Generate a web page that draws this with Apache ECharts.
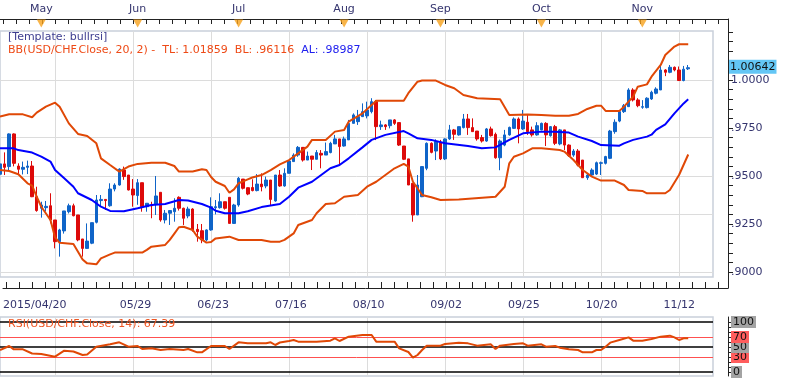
<!DOCTYPE html>
<html>
<head>
<meta charset="utf-8">
<script src="https://cdn.jsdelivr.net/npm/echarts@6/dist/echarts.min.js"></script>
<style>
  html, body { margin: 0; padding: 0; background: #fff; }
  #container { width: 786px; height: 378px; }
</style>
</head>
<body>
<div id="container"></div>
<script>
const container = document.getElementById('container');
const chartIns = echarts.init(container, undefined, { renderer: 'canvas' });

// x positions are trading-day indexes, 0 = 2015/04/20
const SLOTS = 155.4;
const RULER_MAX = SLOTS * 728 / 713;

const gridIdx = [12, 29, 46, 63, 80, 97, 114, 131, 148];
const labelIdx = [0, 29, 46, 63, 80, 97, 114, 131, 148];
const labelText = ['2015/04/20', '05/29', '06/23', '07/16', '08/10', '09/02', '09/25', '10/20', '11/12'];
const monthIdx = [9, 30, 52, 75, 96, 118, 140];
const monthText = ['May', 'Jun', 'Jul', 'Aug', 'Sep', 'Oct', 'Nov'];
const priceLabels = [0.9, 0.925, 0.95, 0.975, 1.0];
const rsiLabels = [0, 30, 50, 70, 100];

// [open, close, low, high]
const ohlc = [
  [.9509,.9563,.9505,.9601],[.9563,.9545,.9505,.9623],[.9549,.9719,.9530,.9722],[.9719,.9566,.9550,.9722],
  [.9552,.9535,.9505,.9566],[.9535,.9545,.9508,.9575],[.9545,.9552,.9510,.9580],[.9552,.9392,.9390,.9578],
  [.9392,.9320,.9314,.9444],[.9332,.9349,.9283,.9366],[.9335,.9342,.9315,.9370],[.9345,.9271,.9253,.9410],
  [.9271,.9158,.9123,.9271],[.9158,.9219,.9080,.9225],[.9214,.9318,.9200,.9318],[.9314,.9345,.9305,.9356],
  [.9345,.9293,.9290,.9356],[.9297,.9167,.9160,.9297],[.9172,.9123,.9080,.9172],[.9123,.9161,.9120,.9253],
  [.9150,.9257,.9145,.9257],[.9259,.9375,.9253,.9401],[.9372,.9378,.9340,.9401],[.9378,.9372,.9323,.9380],
  [.9345,.9432,.9340,.9462],[.9432,.9453,.9420,.9462],[.9453,.9536,.9450,.9540],[.9531,.9497,.9480,.9549],
  [.9505,.9427,.9425,.9505],[.9432,.9401,.9340,.9484],[.9398,.9465,.9350,.9484],[.9465,.9340,.9314,.9465],
  [.9340,.9358,.9314,.9358],[.9349,.9345,.9280,.9366],[.9354,.9396,.9297,.9500],[.9415,.9271,.9262,.9415],
  [.9271,.9306,.9253,.9323],[.9306,.9320,.9245,.9320],[.9314,.9332,.9262,.9384],[.9389,.9332,.9320,.9394],
  [.9332,.9280,.9245,.9335],[.9292,.9328,.9280,.9340],[.9328,.9219,.9210,.9332],[.9222,.9210,.9158,.9250],
  [.9215,.9167,.9150,.9250],[.9167,.9219,.9160,.9222],[.9219,.9340,.9215,.9389],[.9335,.9340,.9300,.9375],
  [.9335,.9366,.9330,.9410],[.9366,.9332,.9325,.9366],[.9389,.9253,.9253,.9389],[.9253,.9349,.9250,.9355],
  [.9349,.9488,.9340,.9495],[.9484,.9436,.9430,.9484],[.9439,.9406,.9400,.9440],[.9440,.9424,.9420,.9483],
  [.9424,.9458,.9420,.9510],[.9458,.9444,.9420,.9514],[.9448,.9479,.9436,.9497],[.9479,.9378,.9349,.9479],
  [.9370,.9505,.9366,.9505],[.9505,.9448,.9444,.9531],[.9448,.9514,.9444,.9540],[.9514,.9578,.9514,.9583],
  [.9575,.9609,.9574,.9618],[.9609,.9649,.9600,.9656],[.9649,.9583,.9575,.9649],[.9583,.9604,.9583,.9627],
  [.9604,.9587,.9531,.9604],[.9587,.9622,.9587,.9635],[.9618,.9609,.9540,.9635],[.9609,.9627,.9609,.9674],
  [.9622,.9670,.9618,.9678],[.9667,.9693,.9667,.9714],[.9693,.9653,.9557,.9693],[.9656,.9693,.9653,.9705],
  [.9688,.9774,.9688,.9792],[.9774,.9818,.9774,.9826],[.9783,.9809,.9766,.9844],[.9809,.9835,.9809,.9878],
  [.9813,.9844,.9800,.9887],[.9835,.9887,.9826,.9905],[.9887,.9757,.9687,.9896],[.9757,.9766,.9740,.9788],
  [.9766,.9757,.9740,.9770],[.9762,.9792,.9748,.9792],[.9792,.9774,.9766,.9796],[.9778,.9661,.9656,.9778],
  [.9656,.9587,.9583,.9656],[.9589,.9453,.9453,.9589],[.9462,.9297,.9262,.9462],[.9297,.9453,.9297,.9505],
  [.9392,.9549,.9390,.9549],[.9540,.9670,.9530,.9675],[.9670,.9623,.9618,.9675],[.9630,.9679,.9583,.9691],
  [.9675,.9589,.9583,.9688],[.9589,.9693,.9583,.9696],[.9693,.9740,.9688,.9766],[.9740,.9717,.9688,.9745],
  [.9714,.9757,.9710,.9757],[.9752,.9797,.9748,.9823],[.9797,.9752,.9714,.9823],[.9752,.9731,.9731,.9800],
  [.9734,.9693,.9684,.9734],[.9700,.9682,.9674,.9714],[.9682,.9745,.9678,.9750],[.9745,.9710,.9705,.9757],
  [.9717,.9595,.9590,.9726],[.9595,.9682,.9530,.9690],[.9661,.9714,.9655,.9740],[.9714,.9753,.9710,.9757],
  [.9748,.9797,.9745,.9805],[.9797,.9745,.9670,.9805],[.9745,.9786,.9740,.9844],[.9780,.9731,.9714,.9820],
  [.9740,.9714,.9705,.9757],[.9714,.9762,.9710,.9780],[.9740,.9774,.9738,.9778],[.9774,.9714,.9656,.9780],
  [.9710,.9757,.9705,.9760],[.9757,.9670,.9661,.9766],[.9667,.9740,.9660,.9745],[.9740,.9661,.9635,.9740],
  [.9661,.9606,.9600,.9665],[.9609,.9630,.9600,.9640],[.9630,.9557,.9550,.9640],[.9583,.9491,.9491,.9583],
  [.9491,.9505,.9480,.9510],[.9505,.9531,.9495,.9540],[.9510,.9569,.9505,.9575],[.9566,.9569,.9505,.9575],
  [.9566,.9601,.9560,.9605],[.9592,.9734,.9588,.9740],[.9731,.9780,.9720,.9795],[.9786,.9835,.9780,.9840],
  [.9835,.9866,.9828,.9875],[.9861,.9948,.9861,.9957],[.9948,.9896,.9888,.9957],[.9896,.9866,.9858,.9905],
  [.9858,.9861,.9850,.9895],[.9856,.9905,.9852,.9910],[.9901,.9936,.9896,.9944],[.9931,.9953,.9925,.9962],
  [.9948,1.0052,.9948,1.0078],[1.0052,1.0040,1.0020,1.0056],[1.0040,1.0066,1.0035,1.0078],[1.0066,1.0052,1.0045,1.0070],
  [1.0052,.9997,.9995,1.0070],[.9997,1.0056,.9993,1.0073],[1.0058,1.0064,1.0052,1.0078]
];

// Bollinger bands [index, value]
const bbUpper = [
  [0,.9809],[2,.9821],[5,.9821],[7,.9806],[8,.9830],[10,.9861],[12,.9882],[13,.9861],[15,.9774],[17,.9719],
  [19,.9708],[21,.9670],[22,.9592],[24,.9557],[26,.9523],[28,.9549],[30,.9563],[33,.9569],[36,.9569],[38,.9552],
  [39,.9523],[42,.9523],[44,.9535],[45,.9531],[46,.9495],[47,.9470],[49,.9448],[50,.9413],[51,.9430],[52,.9462],
  [54,.9482],[55,.9492],[57,.9505],[59,.9531],[61,.9560],[63,.9583],[65,.9618],[67,.9653],[68,.9688],[71,.9688],
  [73,.9731],[75,.9740],[76,.9783],[79,.9826],[81,.9870],[82,.9892],[88,.9892],[89,.9931],[91,.9991],[92,.9997],
  [95,.9997],[97,.9974],[99,.9957],[101,.9922],[104,.9905],[109,.9899],[111,.9818],[115,.9820],[118,.9818],[121,.9814],
  [124,.9814],[126,.9823],[128,.9849],[130,.9866],[131,.9866],[132,.9839],[135,.9839],[136,.9861],[138,.9913],[139,.9965],
  [141,.9977],[142,1.0017],[144,1.0078],[145,1.0130],[147,1.0174],[148,1.0186],[150,1.0186]
];
const bbLower = [
  [0,.9531],[2,.9526],[4,.9509],[6,.9462],[7,.9450],[8,.9392],[9,.9340],[11,.9271],[12,.9180],[13,.9152],
  [16,.9146],[17,.9106],[18,.9065],[19,.9045],[21,.9040],[22,.9071],[24,.9092],[25,.9101],[31,.9101],[32,.9115],
  [33,.9132],[36,.9141],[37,.9167],[38,.9200],[39,.9233],[40,.9236],[42,.9219],[43,.9184],[45,.9153],[46,.9156],
  [47,.9175],[50,.9184],[52,.9167],[57,.9167],[59,.9158],[61,.9158],[62,.9167],[64,.9201],[65,.9245],[68,.9271],
  [69,.9306],[71,.9354],[73,.9358],[75,.9392],[78,.9401],[80,.9444],[82,.9470],[84,.9505],[86,.9540],[88,.9563],
  [89,.9549],[90,.9470],[92,.9401],[94,.9389],[96,.9375],[100,.9378],[108,.9392],[110,.9444],[111,.9566],[112,.9600],
  [114,.9618],[116,.9644],[118,.9644],[122,.9635],[123,.9627],[125,.9583],[127,.9531],[129,.9497],[131,.9476],[134,.9476],
  [136,.9453],[137,.9427],[140,.9422],[141,.9410],[145,.9410],[146,.9427],[148,.9505],[150,.9612]
];
const bbMiddle = [
  [0,.9644],[3,.9644],[4,.9635],[7,.9622],[9,.9601],[11,.9575],[12,.9531],[14,.9488],[16,.9444],[17,.9410],
  [20,.9375],[22,.9340],[24,.9318],[27,.9316],[30,.9332],[33,.9349],[36,.9354],[39,.9375],[41,.9372],[44,.9354],
  [46,.9335],[47,.9319],[49,.9306],[52,.9306],[54,.9316],[57,.9338],[61,.9354],[63,.9392],[65,.9439],[68,.9470],
  [70,.9505],[72,.9540],[74,.9557],[76,.9592],[79,.9649],[81,.9688],[84,.9714],[88,.9734],[89,.9722],[91,.9696],
  [94,.9688],[97,.9670],[102,.9656],[105,.9644],[108,.9649],[111,.9688],[114,.9722],[118,.9731],[121,.9731],[124,.9726],
  [126,.9705],[129,.9682],[131,.9661],[135,.9658],[136,.9670],[138,.9688],[141,.9705],[142,.9715],[143,.9740],[145,.9769],
  [147,.9826],[149,.9878],[150,.9899]
];
const rsi = [
  [0,44],[2,52],[3,45.3],[5,45.3],[7,37],[9,36],[12,30.7],[14,42.7],[16,41],[18,34],[19,35],[21,50.7],[24,55.3],
  [26,59.3],[28,50.7],[30,52],[31,46],[33,47.3],[35,44],[37,46],[40,44],[41,46],[43,39.3],[44,39.3],[46,52],[49,52],
  [50,46],[52,59.3],[54,57.3],[58,57.3],[59,59.3],[60,54],[61,59],[63,62],[64,64],[65,60.7],[69,60.7],[72,62.7],
  [73,67.3],[74,62],[76,70.7],[79,74],[81,74],[82,60.7],[86,60.7],[87,47.3],[89,40],[90,28.7],[91,34],[92,44],
  [93,52.7],[96,52.7],[97,56],[100,58.7],[102,57.3],[104,52.7],[107,55.3],[108,46],[109,52.7],[112,56],[114,57.3],
  [115,52.7],[118,55.3],[119,50.7],[121,52],[122,48.7],[124,45.3],[126,44],[127,39.3],[129,39.3],[130,44],[131,44],
  [132,50.7],[133,58.7],[135,64],[137,69.3],[138,62.7],[140,62.7],[142,66],[144,70.7],[146,72.7],[147,69.3],[148,64],
  [149,67.3],[150,67.39]
];
const lastPrice = 1.00642;

// ruler ticks: six per grid step, aligned on the grid lines
const rulerTicks = [];
for (let v = gridIdx[0] - 4 * 17 / 6; v <= RULER_MAX; v += 17 / 6) rulerTicks.push(v);
const priceTicks = [];
for (let k = 0; k <= 25; k++) priceTicks.push(+(0.9 + k * 0.005).toFixed(3));
const rsiTicks = [0, 10, 20, 30, 40, 50, 60, 70, 80, 90, 100];

const FONT = 'DejaVu Sans';
const NAVY = '#34346e';
const GRIDLINE = '#dcdcdc';
const FRAME = '#c9d0da';
const AXIS = '#222';

const fmtPrice = v => v >= 1 ? v.toFixed(4) : v.toFixed(4).replace(/^0/, '');
const dateLabel = v => labelText[labelIdx.indexOf(Math.round(v))] || '';
const monthLabel = v => monthText[monthIdx.indexOf(Math.round(v))] || '';

const plainX = (gridIndex) => ({
  gridIndex, type: 'value', min: 0, max: SLOTS,
  axisLine: { show: false, onZero: false },
  axisTick: { show: false, customValues: gridIdx }, axisLabel: { show: false },
  splitLine: { show: true, lineStyle: { color: GRIDLINE, width: 1 } }
});
const rulerY = (gridIndex) => ({
  gridIndex, type: 'value', position: 'right', min: 0, max: 1,
  axisLine: { show: true, onZero: false, lineStyle: { color: AXIS, width: 1 } },
  axisTick: { show: false }, axisLabel: { show: false }, splitLine: { show: false }
});

const option = {
  animation: false,
  backgroundColor: '#fff',
  title: [
    { text: '[Template: bullrsi]', left: 5, top: 32, padding: [0, 3],
      textStyle: { fontFamily: FONT, fontSize: 11, fontWeight: 'normal', color: '#3d3d8f' } },
    { text: '{a|BB(USD/CHF.Close, 20, 2) -  TL: 1.01859  BL: .96116}  {b|AL: .98987}', left: 5, top: 45, padding: [0, 3],
      textStyle: { fontFamily: FONT, fontSize: 11, fontWeight: 'normal',
        rich: { a: { color: '#ee4a16', fontFamily: FONT, fontSize: 11 }, b: { color: '#2020ee', fontFamily: FONT, fontSize: 11 } } } },
    { text: 'RSI(USD/CHF.Close, 14): 67.39', left: 5, top: 319, padding: [0, 3],
      textStyle: { fontFamily: FONT, fontSize: 11, fontWeight: 'normal', color: '#ee5522' } }
  ],
  grid: [
    { left: 0, right: 73, top: 31, height: 246, show: true, borderColor: FRAME, borderWidth: 1.5 },
    { left: 0, right: 73, top: 317, height: 59, show: true, borderColor: FRAME, borderWidth: 1.5 },
    { left: 0, right: 58, top: 19, height: 12 },
    { left: 0, right: 58, top: 277, height: 11 }
  ],
  xAxis: [
    plainX(0),
    plainX(1),
    { gridIndex: 2, type: 'value', min: 0, max: RULER_MAX, position: 'top',
      axisLine: { show: true, onZero: false, lineStyle: { color: AXIS, width: 1 } },
      axisTick: { show: true, inside: true, length: 5, customValues: rulerTicks, lineStyle: { color: AXIS } },
      axisLabel: { show: true, customValues: monthIdx, formatter: monthLabel, margin: 4,
        fontFamily: FONT, fontSize: 11, color: NAVY },
      splitLine: { show: false } },
    { gridIndex: 3, type: 'value', min: 0, max: RULER_MAX, position: 'bottom',
      axisLine: { show: true, onZero: false, lineStyle: { color: AXIS, width: 1 } },
      axisTick: { show: true, inside: true, length: 6, customValues: rulerTicks, lineStyle: { color: AXIS } },
      axisLabel: { show: true, customValues: labelIdx, formatter: dateLabel, margin: 12, alignMinLabel: 'left',
        fontFamily: FONT, fontSize: 11, color: NAVY },
      splitLine: { show: false } }
  ],
  yAxis: [
    { gridIndex: 0, type: 'value', position: 'right', offset: 15, min: 0.8974, max: 1.0255,
      axisLine: { show: true, onZero: false, lineStyle: { color: AXIS, width: 1 } },
      axisTick: { show: true, length: 5, customValues: priceTicks, lineStyle: { color: AXIS } },
      axisLabel: { show: true, customValues: priceLabels, formatter: fmtPrice, margin: 3,
        fontFamily: FONT, fontSize: 11, color: NAVY },
      splitLine: { show: false } },
    { gridIndex: 1, type: 'value', position: 'right', offset: 15, min: -8, max: 110,
      axisLine: { show: true, onZero: false, lineStyle: { color: AXIS, width: 1 } },
      axisTick: { show: true, length: 5, customValues: rsiTicks, lineStyle: { color: AXIS } },
      axisLabel: { show: true, customValues: rsiLabels, margin: 3,
        formatter: v => (v === 70 || v === 30 ? '{r|' : '{g|') + v + '}',
        rich: {
          g: { backgroundColor: '#a3a3a3', color: '#111', fontFamily: FONT, fontSize: 11, padding: [1, 2, 0, 2] },
          r: { backgroundColor: '#ff5d5d', color: '#111', fontFamily: FONT, fontSize: 11, padding: [1, 2, 0, 2] }
        } },
      splitLine: { show: false } },
    rulerY(2),
    rulerY(3)
  ],
  series: [
    // horizontal price grid lines and the last-price tag
    { type: 'line', xAxisIndex: 0, yAxisIndex: 0, data: [], z: 1,
      markLine: {
        silent: true, symbol: 'none', animation: false, z: 1,
        data: priceLabels.map(v => ({ yAxis: v, lineStyle: { color: GRIDLINE, width: 1, type: 'solid' }, label: { show: false } }))
          .concat([{ yAxis: lastPrice, lineStyle: { color: 'transparent', width: 0 },
            label: { show: true, position: 'end', distance: [16, 0], offset: [0, 6], formatter: lastPrice.toFixed(5),
              verticalAlign: 'middle',
              backgroundColor: '#63c6f5', color: '#111', fontFamily: FONT, fontSize: 11, padding: [2, 1, 1, 1] } }])
      } },
    {
      type: 'candlestick', xAxisIndex: 0, yAxisIndex: 0, z: 3,
      data: ohlc.map((d, i) => [i, d[0], d[1], d[2], d[3]]),
      encode: { x: 0, y: [1, 2, 3, 4] },
      barWidth: 3,
      itemStyle: { color: '#0f64c8', color0: '#dd0a0a', borderColor: '#0f64c8', borderColor0: '#dd0a0a', borderWidth: 1 }
    },
    { type: 'line', xAxisIndex: 0, yAxisIndex: 0, data: bbUpper, symbol: 'none', z: 4,
      lineStyle: { color: '#e04806', width: 2 } },
    { type: 'line', xAxisIndex: 0, yAxisIndex: 0, data: bbLower, symbol: 'none', z: 4,
      lineStyle: { color: '#e04806', width: 2 } },
    { type: 'line', xAxisIndex: 0, yAxisIndex: 0, data: bbMiddle, symbol: 'none', z: 4,
      lineStyle: { color: '#0000ff', width: 2 } },
    { type: 'line', xAxisIndex: 1, yAxisIndex: 1, data: rsi, symbol: 'none', z: 4,
      lineStyle: { color: '#e04806', width: 2 },
      markLine: {
        silent: true, symbol: 'none', label: { show: false }, z: 3,
        data: [
          { yAxis: 100, lineStyle: { color: '#000', width: 1.5, type: 'solid' } },
          { yAxis: 70, lineStyle: { color: '#ff5050', width: 1, type: 'solid' } },
          { yAxis: 50, lineStyle: { color: '#000', width: 1.5, type: 'solid' } },
          { yAxis: 30, lineStyle: { color: '#ff5050', width: 1, type: 'solid' } },
          { yAxis: 0, lineStyle: { color: '#000', width: 1.5, type: 'solid' } }
        ]
      } },
    { type: 'scatter', xAxisIndex: 2, yAxisIndex: 2, data: monthIdx.map(i => [i, 0.62]),
      symbol: 'triangle', symbolRotate: 180, symbolSize: [9, 8], clip: false,
      itemStyle: { color: '#f6a11c' } }
  ]
};

chartIns.setOption(option);
</script>
</body>
</html>
